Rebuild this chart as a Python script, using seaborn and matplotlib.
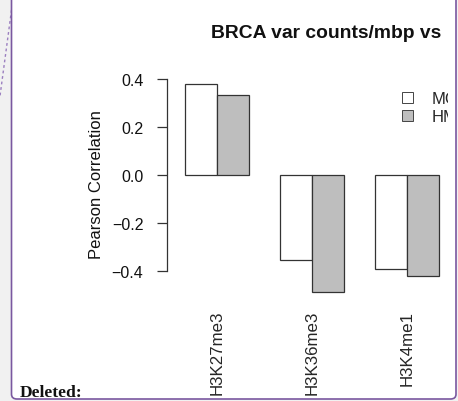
import numpy as np
import pandas as pd
import seaborn as sns
import matplotlib.pyplot as plt
from matplotlib.patches import FancyBboxPatch
from matplotlib.lines import Line2D
from matplotlib.transforms import Bbox, TransformedBbox

# values
marks = ["H3K27me3", "H3K36me3", "H3K4me1"]
cells = ["MCF7", "HMEC"]
mcf7_corr = [0.38, -0.355, -0.393]
hmec_corr = [0.335, -0.487, -0.42]
yticks = [-0.4, -0.2, 0.0, 0.2, 0.4]

df = pd.DataFrame({
    "mark": marks * 2,
    "cell": [cells[0]] * 3 + [cells[1]] * 3,
    "corr": mcf7_corr + hmec_corr,
})

sns.set_theme(style="white")
plt.rcParams["font.family"] = ["Liberation Sans", "DejaVu Sans"]

W, H = 458, 402
fig = plt.figure(figsize=(W / 100, H / 100), dpi=100, facecolor="#f1f1f1")

def px(x0, y0, x1, y1):
    # pixel box (top-left origin) -> figure fraction rect
    return [x0 / W, 1 - y1 / H, (x1 - x0) / W, (y1 - y0) / H]

# page frame (word document look)
purple = "#7a58a0"
frame = FancyBboxPatch((11.5 / W, 1 - 400 / H), (456 - 11.5) / W, 420 / H,
                       boxstyle="round,pad=0,rounding_size=0.012",
                       transform=fig.transFigure, facecolor="white",
                       edgecolor=purple, linewidth=1.2, zorder=-5)
fig.patches.append(frame)
fig.lines.append(Line2D([13 / W, 0], [1, 1 - 97 / H], transform=fig.transFigure,
                        color="#9b7fc0", linestyle=(0, (2, 2)), linewidth=1, zorder=-5))

# axes: y 0.45 -> px 68, y -0.52 -> px 300.8 ; x -0.526 -> px 167
ax = fig.add_axes(px(167, 68, 455, 300.8))
ax.set_facecolor("none")

sns.barplot(data=df, x="mark", y="corr", hue="cell", order=marks, hue_order=cells,
            palette=["white", "#bebebe"], edgecolor="#333333", linewidth=0.9,
            width=0.67, saturation=1, ax=ax)

ax.set_ylim(-0.52, 0.45)
ax.set_xlim(-0.526, (455 - 217) / 95)
for s in ["top", "right", "bottom"]:
    ax.spines[s].set_visible(False)
ax.spines["left"].set_bounds(-0.4, 0.4)
ax.spines["left"].set_color("#333333")
ax.spines["left"].set_linewidth(0.9)

ax.set_yticks(yticks)
ax.set_yticklabels([f"{t:.1f}".replace("-", "\u2212") for t in yticks], fontsize=11.5, color="#111111")
ax.tick_params(axis="y", left=True, length=7, width=0.9, color="#333333", pad=10)
ax.tick_params(axis="x", bottom=False, length=0, pad=7)
for lab in ax.get_xticklabels():
    lab.set_rotation(90)
    lab.set_fontsize(12.2)
    lab.set_va("top")

ax.set_xlabel("")
ax.set_ylabel("Pearson Correlation", fontsize=12, color="#111111")
ax.yaxis.set_label_coords((104 - 167) / (455 - 167), 0.5)

fig.text(326 / W, 1 - 33 / H, "BRCA var counts/mbp vs", ha="center", va="center",
         fontsize=13.9, fontweight="bold", color="#111111")

leg = ax.legend(loc="upper left", bbox_to_anchor=(402 / W, 1 - 92 / H),
                bbox_transform=fig.transFigure, frameon=False, fontsize=12,
                handlelength=0.65, handleheight=0.65, handletextpad=1.1,
                labelspacing=0.2, borderaxespad=0, borderpad=0)
clip = TransformedBbox(Bbox([[0, 0], [448 / W, 1]]), fig.transFigure)
for t in leg.get_texts():
    t.set_clip_box(clip)
    t.set_clip_on(True)
for h in leg.legend_handles:
    h.set_linewidth(0.7)
    h.set_edgecolor("#444444")

fig.text(20 / W, 1 - 397 / H, "Deleted:", ha="left", va="baseline", fontsize=12.6,
         fontweight="bold", family=["Liberation Serif", "DejaVu Serif"], color="#111111")

fig.savefig("out.png", dpi=100, facecolor=fig.get_facecolor())
